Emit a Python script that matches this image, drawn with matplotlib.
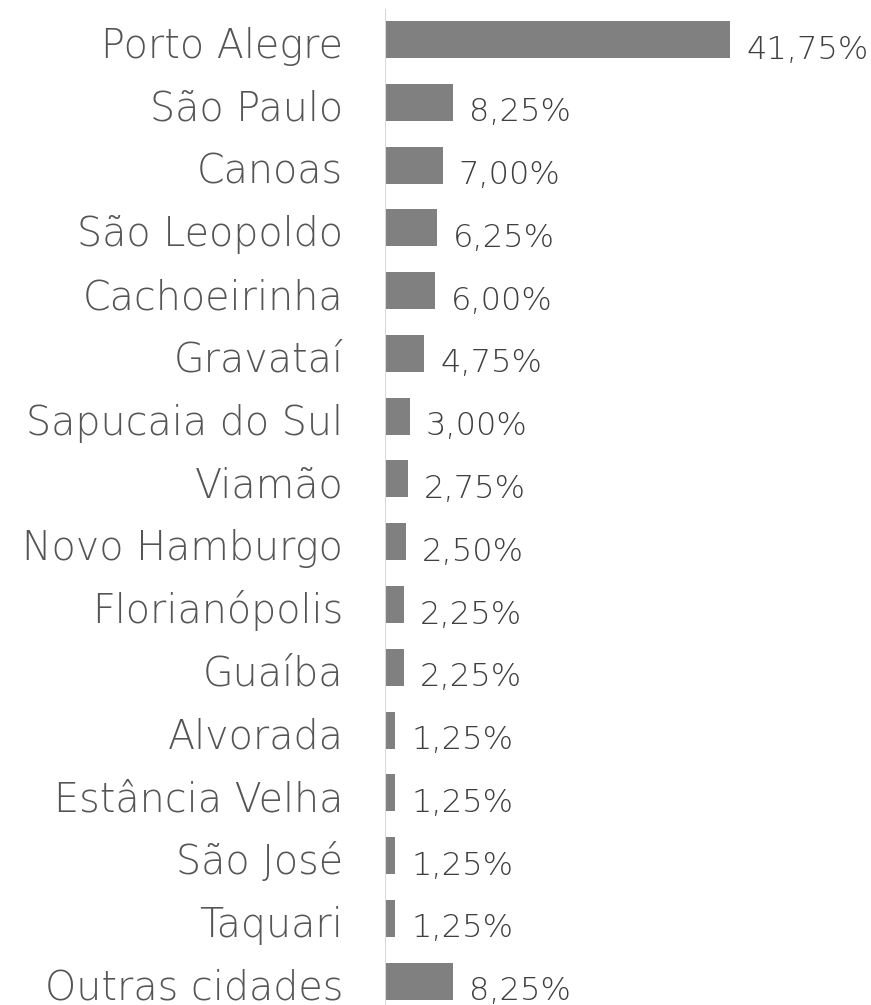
import matplotlib.pyplot as plt

cidades = [
    "Porto Alegre", "São Paulo", "Canoas", "São Leopoldo", "Cachoeirinha",
    "Gravataí", "Sapucaia do Sul", "Viamão", "Novo Hamburgo", "Florianópolis",
    "Guaíba", "Alvorada", "Estância Velha", "São José", "Taquari", "Outras cidades",
]
percentuais = [41.75, 8.25, 7.00, 6.25, 6.00, 4.75, 3.00, 2.75, 2.50, 2.25,
               2.25, 1.25, 1.25, 1.25, 1.25, 8.25]

plt.rcParams["font.family"] = ["DejaVu Sans"]

fig = plt.figure(figsize=(8.71, 10.05), dpi=100)
ax = fig.add_axes([385 / 871, 0, 486 / 871, 1])

pos = list(range(len(cidades)))
ax.barh(pos, percentuais, height=0.59, color="#808080")

ax.set_xlim(0, 58.8)
ax.set_ylim(15.38, -0.629)

# rótulos de valor (vírgula decimal)
for y, v in zip(pos, percentuais):
    ax.annotate(f"{v:.2f}%".replace(".", ","), xy=(v, y), xytext=(11.5, -13.7),
                textcoords="offset points", ha="left", va="baseline",
                fontsize=23, fontweight="light", color="#3f3f3f")

# nomes das cidades
for y, nome in zip(pos, cidades):
    ax.annotate(nome, xy=(0, y), xytext=(-30, -13.3), textcoords="offset points",
                ha="right", va="baseline", fontsize=28.5, fontweight="light",
                color="#555555", annotation_clip=False)

for s in ax.spines.values():
    s.set_visible(False)
ax.axvline(0, ymin=0, ymax=(1005 - 10) / 1005, color="#d9d9d9", lw=1.5)
ax.set_xticks([])
ax.set_yticks([])

fig.savefig("out.png", dpi=100)
